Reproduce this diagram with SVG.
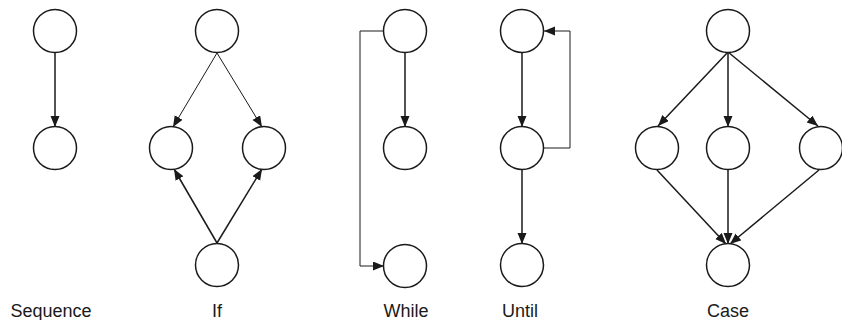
<svg xmlns="http://www.w3.org/2000/svg" width="842" height="320" viewBox="0 0 842 320">
<style>
.n{fill:#fff;stroke:#1a1a1a;stroke-width:1.5}
.e{fill:none;stroke:#1a1a1a;stroke-width:1.5;marker-end:url(#ah)}
.t{stroke-width:1}
.l{fill:none;stroke:#1a1a1a;stroke-width:1}
.lbl{font-family:"Liberation Sans",Arial,sans-serif;font-size:18px;fill:#1a1a1a;text-anchor:middle}
</style>
<defs>
<marker id="ah" markerUnits="userSpaceOnUse" markerWidth="12" markerHeight="10" refX="11" refY="4.5" orient="auto">
<path d="M0,0 L11,4.5 L0,9 z" fill="#1a1a1a"/>
</marker>
</defs>
<g id="connectors">
<line class="e" x1="55" y1="53" x2="55" y2="127"/>
<line class="e t" x1="217" y1="53" x2="173" y2="127"/>
<line class="e t" x1="217" y1="53" x2="262" y2="127"/>
<line class="e" x1="217" y1="243" x2="174" y2="169"/>
<line class="e" x1="217" y1="243" x2="262" y2="169"/>
<line class="e" x1="405" y1="53" x2="405" y2="127"/>
<path class="e t" d="M384,31 H360 V266 H384"/>
<line class="e" x1="522" y1="53" x2="522" y2="127"/>
<line class="e" x1="522" y1="170" x2="522" y2="244"/>
<path class="e t" d="M544,148 H570 V31 H544"/>
<line class="e" x1="728" y1="52" x2="658" y2="126"/>
<line class="e" x1="728" y1="53" x2="728" y2="127"/>
<line class="e" x1="728" y1="52" x2="818" y2="126"/>
<line class="e" x1="657" y1="170" x2="726" y2="244"/>
<line class="e" x1="728" y1="170" x2="728" y2="244"/>
<line class="e" x1="819" y1="170" x2="730" y2="244"/>
</g>
<g id="seq-1"><circle class="n" cx="55" cy="31" r="21.5"/></g>
<g id="seq-2"><circle class="n" cx="55" cy="148" r="21.5"/></g>
<g id="if-top"><circle class="n" cx="217" cy="31" r="21.5"/></g>
<g id="if-left"><circle class="n" cx="171" cy="148" r="21.5"/></g>
<g id="if-right"><circle class="n" cx="264" cy="148" r="21.5"/></g>
<g id="if-bottom"><circle class="n" cx="217" cy="265" r="21.5"/></g>
<g id="while-1"><circle class="n" cx="405" cy="31" r="21.5"/></g>
<g id="while-2"><circle class="n" cx="405" cy="148" r="21.5"/></g>
<g id="while-3"><circle class="n" cx="405" cy="266" r="21.5"/></g>
<g id="until-1"><circle class="n" cx="522" cy="31" r="21.5"/></g>
<g id="until-2"><circle class="n" cx="522" cy="148" r="21.5"/></g>
<g id="until-3"><circle class="n" cx="522" cy="265" r="21.5"/></g>
<g id="case-top"><circle class="n" cx="728" cy="31" r="21.5"/></g>
<g id="case-left"><circle class="n" cx="657" cy="148" r="21.5"/></g>
<g id="case-mid"><circle class="n" cx="728" cy="148" r="21.5"/></g>
<g id="case-right"><circle class="n" cx="821" cy="148" r="21.5"/></g>
<g id="case-bottom"><circle class="n" cx="728" cy="265" r="21.5"/></g>
<g id="labels">
<text class="lbl" x="51" y="317">Sequence</text>
<text class="lbl" x="217" y="317">If</text>
<text class="lbl" x="406" y="317">While</text>
<text class="lbl" x="520" y="317">Until</text>
<text class="lbl" x="728" y="317">Case</text>
</g>
</svg>
